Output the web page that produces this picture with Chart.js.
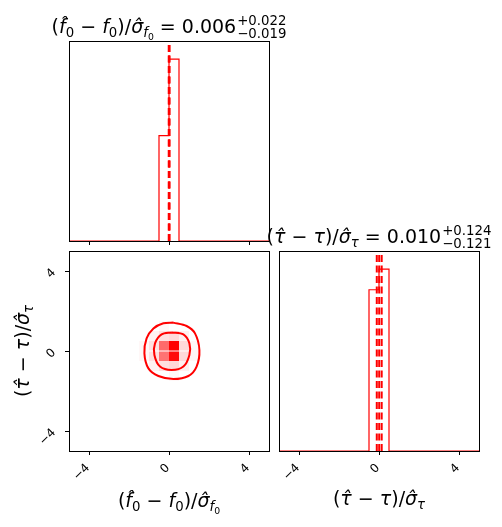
<!DOCTYPE html>
<html><head><meta charset="utf-8">
<script src="https://cdn.jsdelivr.net/npm/chart.js@4.4.0/dist/chart.umd.min.js"></script>
<style>
html,body{margin:0;padding:0;background:#fff;}
body{width:502px;height:527px;position:relative;overflow:hidden;font-family:"DejaVu Sans",sans-serif;}
canvas{position:absolute;left:0;top:0;}
.outer{position:absolute;width:0;height:0;transform-origin:0 0;}
.inner{position:absolute;left:0;top:0;white-space:nowrap;font-size:19px;line-height:1.2;color:#000;transform:translateX(-50%);}
.inner i{font-style:italic;}
.sb{font-size:70%;vertical-align:-0.28em;line-height:0;}
.ss{display:inline-flex;flex-direction:column;vertical-align:0.6em;font-size:70%;line-height:0.95;margin-left:1px;}
.bm{display:inline-block;width:0;height:0;vertical-align:baseline;}
</style></head><body>
<canvas id="cA" width="502" height="527"></canvas>
<canvas id="cB" width="502" height="527"></canvas>
<canvas id="cC" width="502" height="527"></canvas>
<script>
// ---------------- data ----------------
const binEdges = [-5,-4.5,-4,-3.5,-3,-2.5,-2,-1.5,-1,-0.5,0,0.5,1,1.5,2,2.5,3,3.5,4,4.5,5];
const f0Counts  = [0,0,0,0,0,0,0,0,0,367,633,0,0,0,0,0,0,0,0,0];
const tauCounts = [0,0,0,0,0,0,0,0,0,470,530,0,0,0,0,0,0,0,0,0];
const f0Quantiles  = [-0.013, 0.006, 0.028];
const tauQuantiles = [-0.111, 0.010, 0.134];
const axisTicks = [-4, 0, 4];
const axisRange = [-5, 5];
// 2D density cells (centre x, centre y, relative density), bin size 0.5
const cellX = [-0.25, 0.25,-0.25, 0.25, -0.75,-0.75, 0.75, 0.75, -0.25, 0.25,-0.25, 0.25, -0.75, 0.75,-0.75, 0.75, -1.25, 1.25,-0.25, 0.25];
const cellY = [ 0.25, 0.25,-0.25,-0.25,  0.25,-0.25, 0.25,-0.25,  0.75, 0.75,-0.75,-0.75,  0.75, 0.75,-0.75,-0.75,  0.0,  0.0,  1.25,-1.25];
const cellD = [ 0.58, 1.00, 0.55, 0.95,  0.12, 0.12, 0.15, 0.15,  0.12, 0.15, 0.12, 0.15,  0.05, 0.06, 0.05, 0.06,  0.03, 0.03, 0.03, 0.03];
const cellH = [ 0.5,  0.5,  0.5,  0.5,   0.5,  0.5,  0.5,  0.5,   0.5,  0.5,  0.5,  0.5,   0.5,  0.5,  0.5,  0.5,   1.0,  1.0,  0.5,  0.5];
// contour lines
const outerX = [0.22, 0.88, 1.30, 1.52, 1.38, 0.97, 0.22,-0.53,-1.03,-1.23,-1.12,-0.78,-0.28];
const outerY = [1.42, 1.25, 0.88, 0.05,-0.78,-1.25,-1.40,-1.25,-0.87,-0.12, 0.63, 1.13, 1.39];
const innerX = [0.13, 0.72, 1.02, 1.02, 0.72, 0.13,-0.45,-0.73,-0.70,-0.37];
const innerY = [0.93, 0.83, 0.38,-0.20,-0.78,-0.95,-0.78,-0.20, 0.38, 0.83];

// ---------------- helpers ----------------
const RED = '#ff0000';
function fmtTick(v){ return (v < 0 ? '\u2212' : '') + Math.abs(v); }
function stepPoints(edges, counts){
  const p = [];
  for (let i = 0; i < counts.length; i++){ p.push({x:edges[i], y:counts[i]}, {x:edges[i+1], y:counts[i]}); }
  return p;
}
function closed(xs, ys){ const p = xs.map((x,i)=>({x:x, y:ys[i]})); p.push({x:xs[0], y:ys[0]}); return p; }
function quantileSets(qs, yMax){
  return qs.map(q => ({data:[{x:q,y:0},{x:q,y:yMax}], showLine:true, borderColor:RED, borderWidth:2,
    borderDash:[7,3.5], pointRadius:0, fill:false, order:0}));
}
const framePlugin = {id:'frame', afterDatasetsDraw(chart){
  const a = chart.chartArea, ctx = chart.ctx;
  ctx.save(); ctx.strokeStyle = '#000'; ctx.lineWidth = 1;
  ctx.strokeRect(a.left + 0.5, a.top + 0.5, a.right - a.left, a.bottom - a.top);
  ctx.restore();
}};
const tickFont = {family:'DejaVu Sans', size:12};
function makeOptions(panel, cfg){
  return {
    responsive:false, animation:false, events:[],
    layout:{autoPadding:false, padding:{left:panel.left-40, top:panel.top, right:502-panel.right, bottom:527-panel.bottom-40}},
    plugins:{legend:{display:false}, tooltip:{enabled:false}, title:{display:false}},
    scales:{
      x:{type:'linear', position:'bottom', min:axisRange[0], max:axisRange[1], offset:false,
        afterBuildTicks:s=>{ s.ticks = axisTicks.map(v=>({value:v})); },
        afterFit:s=>{ s.height = 40; },
        grid:{display:true, offset:false, drawOnChartArea:false, drawTicks:true, tickLength:4, color:'#000', lineWidth:1},
        border:{display:false},
        ticks:{display:cfg.xLabels, autoSkip:false, minRotation:45, maxRotation:45, padding:6, labelOffset:-1, color:'#000', font:tickFont, callback:fmtTick}},
      y:{type:'linear', position:'left', min:cfg.yMin, max:cfg.yMax, offset:false,
        afterBuildTicks: cfg.yTicks ? (s=>{ s.ticks = axisTicks.map(v=>({value:v})); }) : undefined,
        afterFit:s=>{ s.width = 40; },
        grid:{display:cfg.yTicks, offset:false, drawOnChartArea:false, drawTicks:true, tickLength:4, color:'#000', lineWidth:1},
        border:{display:false},
        ticks:{display:cfg.yTicks, autoSkip:false, minRotation:45, maxRotation:45, padding:11, color:'#000', font:tickFont, callback:fmtTick}}
    }
  };
}

// ---------------- panel A: f0 histogram ----------------
const yMaxA = Math.max(...f0Counts) * 1.1;
new Chart(document.getElementById('cA'), {
  type:'scatter',
  data:{datasets:[
    {data:stepPoints(binEdges, f0Counts), showLine:true, borderColor:RED, borderWidth:1.2, pointRadius:0, fill:false, order:1},
    ...quantileSets(f0Quantiles, yMaxA)
  ]},
  options:makeOptions({left:69, top:41, right:269, bottom:241}, {xLabels:false, yTicks:false, yMin:0, yMax:yMaxA}),
  plugins:[framePlugin]
});

// ---------------- panel B: 2D ----------------
const cellData = cellX.map((x,i)=>({x:x, y:[cellY[i]-cellH[i]/2, cellY[i]+cellH[i]/2]}));
const cellColors = cellD.map(d=>{ const g = Math.round(255*(1-d)); return 'rgb(255,'+g+','+g+')'; });
new Chart(document.getElementById('cB'), {
  type:'scatter',
  data:{datasets:[
    {type:'bar', data:cellData, backgroundColor:cellColors, borderWidth:0, barPercentage:1, categoryPercentage:1,
     inflateAmount:0, grouped:false, order:3},
    {data:closed(outerX, outerY), showLine:true, borderColor:RED, borderWidth:2, tension:0.3, pointRadius:0, fill:false, order:1},
    {data:closed(innerX, innerY), showLine:true, borderColor:RED, borderWidth:2, tension:0.3, pointRadius:0, fill:false, order:1}
  ]},
  options:makeOptions({left:69, top:251, right:269, bottom:451}, {xLabels:true, yTicks:true, yMin:axisRange[0], yMax:axisRange[1]}),
  plugins:[framePlugin]
});

// ---------------- panel C: tau histogram ----------------
const yMaxC = Math.max(...tauCounts) * 1.1;
new Chart(document.getElementById('cC'), {
  type:'scatter',
  data:{datasets:[
    {data:stepPoints(binEdges, tauCounts), showLine:true, borderColor:RED, borderWidth:1.2, pointRadius:0, fill:false, order:1},
    ...quantileSets(tauQuantiles, yMaxC)
  ]},
  options:makeOptions({left:279, top:251, right:479, bottom:451}, {xLabels:true, yTicks:false, yMin:0, yMax:yMaxC}),
  plugins:[framePlugin]
});

// ---------------- text ----------------
const F0_LABEL = '(<i>f\u0302</i><span class="sb">0</span> \u2212 <i>f</i><span class="sb">0</span>)/<i>\u03c3\u0302</i><span class="sb"><i>f</i><span class="sb">0</span></span>';
const TAU_LABEL = '(<i>\u03c4\u0302</i> \u2212 <i>\u03c4</i>)/<i>\u03c3\u0302</i><span class="sb"><i>\u03c4</i></span>';
function titleHtml(label, q){
  const med = q[1], plus = q[2]-q[1], minus = q[1]-q[0];
  return label + ' = ' + med.toFixed(3) + '<span class="ss"><span>+' + plus.toFixed(3) + '</span><span>\u2212' + minus.toFixed(3) + '</span></span>';
}
function addLabel(html, x, baseY, rotate){
  const outer = document.createElement('div'); outer.className = 'outer';
  outer.style.left = x + 'px'; outer.style.top = baseY + 'px';
  const inner = document.createElement('div'); inner.className = 'inner';
  inner.innerHTML = html + '<span class="bm"></span>';
  outer.appendChild(inner); document.body.appendChild(outer);
  const m = inner.querySelector('.bm').getBoundingClientRect();
  const t = inner.getBoundingClientRect();
  inner.style.top = (-(m.top - t.top)) + 'px';
  if (rotate) outer.style.transform = 'rotate(-90deg)';
}
addLabel(titleHtml(F0_LABEL, f0Quantiles), 169, 33, false);
addLabel(titleHtml(TAU_LABEL, tauQuantiles), 379, 243, false);
addLabel(F0_LABEL, 169, 507, false);
addLabel(TAU_LABEL, 379, 505, false);
addLabel(TAU_LABEL, 29, 351, true);
</script>
</body></html>
